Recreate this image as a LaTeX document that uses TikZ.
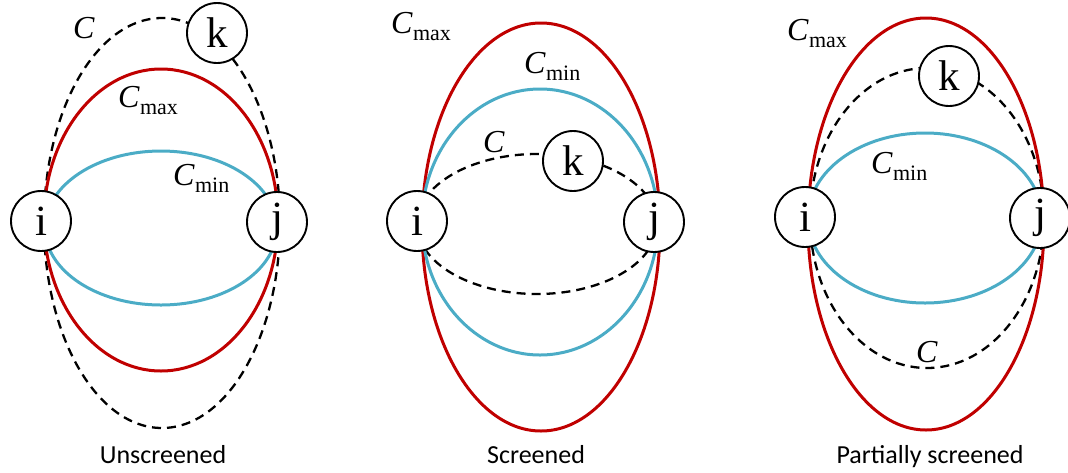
\documentclass[tikz,border=0pt]{standalone}
\usepackage{fontspec}
\setmainfont{Liberation Serif}
\newfontfamily\capfont{Carlito}
\definecolor{cred}{HTML}{C00000}
\definecolor{cblue}{HTML}{4BACC6}
\newcommand\Csub[1]{C\kern0.5pt\raisebox{-7pt}{\upshape\fontsize{22}{22}\selectfont #1}}
\begin{document}
\begin{tikzpicture}[x=1pt,y=-1pt,
  vertex/.style={circle,draw=black,line width=1.9pt,fill=white,minimum size=60pt,inner sep=0pt,font=\fontsize{43}{43}\selectfont},
  maxline/.style={draw=cred,line width=3pt},
  minline/.style={draw=cblue,line width=3pt},
  pathline/.style={draw=black,line width=2.3pt,dash pattern=on 9pt off 6pt},
  lbl/.style={anchor=base west,inner sep=0pt,font=\fontsize{32}{32}\selectfont\itshape},
  capt/.style={anchor=base,inner sep=0pt,font=\capfont\fontsize{26}{26}\selectfont}]
\useasboundingbox (0,0) rectangle (1068,472);

% ---------- Panel 1: Unscreened ----------
\draw[pathline] (162,223) ellipse [x radius=118pt, y radius=205pt];
\draw[minline] (161,228) ellipse [x radius=116pt, y radius=77pt];
\draw[maxline] (161,220) ellipse [x radius=117pt, y radius=151pt];
\node[vertex] (i1) at (41,221) {i};
\node[vertex] (j1) at (277,222) {j};
\node[vertex] (k1) at (217,33) {k};
\node[lbl] (c1) at (73,38) {C};
\node[lbl] (cmax1) at (118,107) {\Csub{max}};
\node[lbl] (cmin1) at (173,185) {\Csub{min}};
\node[capt] (cap1) at (163,463) {Unscreened};

% ---------- Panel 2: Screened ----------
\draw[pathline] (537,224) ellipse [x radius=120pt, y radius=70pt];
\draw[maxline] (541,227) ellipse [x radius=119pt, y radius=204pt];
\draw[minline] (540,222) ellipse [x radius=118pt, y radius=133pt];
\node[vertex] (i2) at (417,221) {i};
\node[vertex] (j2) at (654,222) {j};
\node[vertex] (k2) at (573,161) {k};
\node[lbl] (c2) at (483,152) {C};
\node[lbl] (cmax2) at (391,33) {\Csub{max}};
\node[lbl] (cmin2) at (524,73) {\Csub{min}};
\node[capt] (cap2) at (536,463) {Screened};

% ---------- Panel 3: Partially screened ----------
\draw[pathline] (927,218) ellipse [x radius=117pt, y radius=150pt];
\draw[minline] (925,218) ellipse [x radius=117pt, y radius=85pt];
\draw[maxline] (926,224) ellipse [x radius=118pt, y radius=206pt];
\node[vertex] (i3) at (805,217) {i};
\node[vertex] (j3) at (1040,218) {j};
\node[vertex] (k3) at (949,76) {k};
\node[lbl] (c3) at (916,362) {C};
\node[lbl] (cmax3) at (787,40) {\Csub{max}};
\node[lbl] (cmin3) at (871,173) {\Csub{min}};
\node[capt] (cap3) at (930,463) {Partially screened};
\end{tikzpicture}
\end{document}
